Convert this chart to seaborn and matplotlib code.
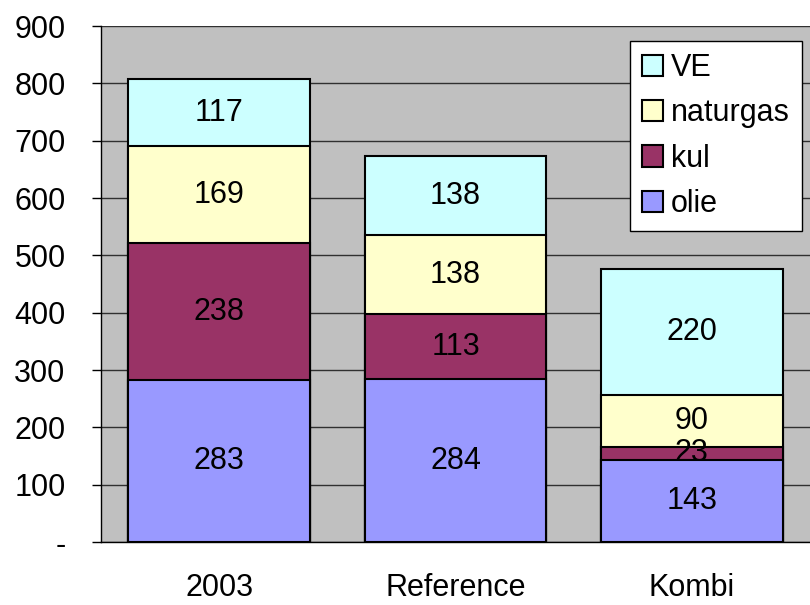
import numpy as np
import pandas as pd
import matplotlib
matplotlib.use("Agg")
import matplotlib.pyplot as plt
import seaborn as sns

# data
scenarios = ["2003", "Reference", "Kombi"]
olie = [283, 284, 143]
kul = [238, 113, 23]
naturgas = [169, 138, 90]
ve = [117, 138, 220]

sources = ["olie", "kul", "naturgas", "VE"]
colors = {"olie": "#9999FF", "kul": "#993366", "naturgas": "#FFFFCC", "VE": "#CCFFFF"}

sns.set_style("white")
plt.rcParams["font.family"] = ["Liberation Sans", "DejaVu Sans"]
plt.rcParams["text.color"] = "black"
plt.rcParams["xtick.color"] = "black"
plt.rcParams["ytick.color"] = "black"

df = pd.DataFrame({"scenario": scenarios, "olie": olie, "kul": kul,
                   "naturgas": naturgas, "VE": ve})
cum = df[sources].cumsum(axis=1)

fig = plt.figure(figsize=(8.1, 6.05), dpi=100)
ax = fig.add_axes([0.1247, 0.104, 0.8753, 0.853])
ax.set_facecolor("#C0C0C0")

# stacked bars: draw cumulative totals from the top layer down
for src in reversed(sources):
    sns.barplot(x=df["scenario"], y=cum[src], color=colors[src], width=0.77,
                edgecolor="black", linewidth=1.5, saturation=1, ax=ax,
                label=src, zorder=3)

# value labels in the middle of each segment
for i in range(len(scenarios)):
    base = 0
    for src in sources:
        v = df[src][i]
        ax.text(i, base + v / 2, str(v), ha="center", va="center",
                fontsize=22, color="black", zorder=5)
        base += v

ax.set_ylim(0, 900)
ax.set_xlim(-0.5, 2.5)
ax.set_yticks(range(0, 1000, 100))
ax.set_yticklabels(["-"] + [str(t) for t in range(100, 1000, 100)])
ax.yaxis.grid(True, color="#303030", linewidth=1, zorder=0)
ax.set_axisbelow(True)

ax.set_xticks([0, 1, 2])
ax.set_xticks([-0.5, 0.5, 1.5, 2.5], minor=True)
ax.tick_params(axis="x", which="major", length=0, pad=22, labelsize=22)
ax.tick_params(axis="x", which="minor", length=7, width=1, direction="out")
ax.tick_params(axis="y", length=6.5, width=1, direction="out", pad=19,
               labelsize=22, left=True)
ax.set_xlabel("")
ax.set_ylabel("")

for s in ["top", "right"]:
    ax.spines[s].set_visible(False)
for s in ["left", "bottom"]:
    ax.spines[s].set_color("black")
    ax.spines[s].set_linewidth(1)

handles, labels = ax.get_legend_handles_labels()
leg = ax.legend(handles, labels, loc="upper right",
                bbox_to_anchor=(0.989, 0.971), borderaxespad=0,
                fontsize=22, frameon=True, fancybox=False, edgecolor="black",
                facecolor="white", framealpha=1, handlelength=0.7,
                handleheight=0.7, handletextpad=0.25, labelspacing=0.5,
                borderpad=0.4)
leg.get_frame().set_linewidth(1)
leg.set_zorder(10)

fig.savefig("out.png", dpi=100)
